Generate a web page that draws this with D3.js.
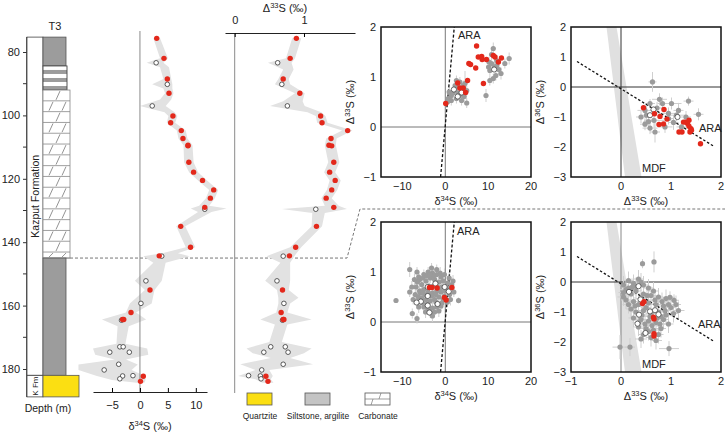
<!DOCTYPE html>
<html><head><meta charset="utf-8">
<script src="https://cdn.jsdelivr.net/npm/d3@7/dist/d3.min.js"></script>
<style>body{margin:0;background:#fff}svg text{font-family:"Liberation Sans",Arial,sans-serif;fill:#222}</style>
</head><body><svg id="c" width="725" height="432"></svg>
<script>
// ---------- DATA ----------
const depthTicks = [80,100,120,140,160,180];
const depthMinor = [90,110,130,150,170];
const lithTop  = [75.3, 84.4, 92.0, 145.0, 182.0];
const lithBase = [84.4, 92.0, 145.0, 182.0, 188.8];
const lithType = ["silt","inter","carb","silt","quartz"];

const sampleDepth = [75.7,82.0,83.4,88.5,90.2,93.0,97.0,100.2,102.3,104.8,107.3,109.4,109.6,114.8,117.9,120.5,123.5,126.1,129.0,129.6,135.0,141.6,144.3,144.4,152.2,155.1,159.3,162.2,164.4,164.4,164.6,173.0,173.0,174.7,174.7,178.5,180.3,182.1,182.2,183.1,182.3,183.9];
const sampleD34   = [3.0,4.3,2.9,4.9,4.9,5.2,2.2,5.9,5.5,7.4,7.7,8.6,8.6,8.75,9.6,11.2,13.2,12.6,11.6,11.6,7.3,9.05,3.45,3.9,1.07,1.8,0.18,-1.6,-3.1,-2.9,-3.3,-3.6,-3.0,-5.4,-1.9,-3.8,-6.4,-1.25,-3.1,-3.6,0.6,0.1];
const sampleD33   = [0.89,0.80,0.62,0.70,0.68,0.94,0.76,1.24,1.26,1.63,1.39,1.36,1.40,1.43,1.37,1.45,1.40,1.32,1.43,1.17,1.18,0.88,0.79,0.70,0.61,0.69,0.71,0.67,0.70,0.71,0.69,0.52,0.73,0.42,0.77,0.70,0.39,0.20,0.37,0.38,0.45,0.48];
const sampleKind  = ["r","r","o","r","o","r","o","r","r","r","r","r","r","r","r","r","r","r","r","o","r","r","r","o","o","r","o","r","r","r","o","o","o","o","o","o","o","o","o","o","r","r"];

const band34Depth = [75.7,82.0,83.4,84.8,88.5,90.2,91.5,93.0,95.0,97.0,99.0,100.2,102.3,104.8,107.3,109.4,114.8,117.9,120.5,123.5,126.1,128.5,129.4,130.5,135.0,141.6,143.5,144.4,146.5,152.2,155.1,159.3,162.2,164.4,166.5,172.0,173.5,175.5,177.0,178.6,180.3,182.2,183.5,184.3];
const band34Lo    = [2.4,3.6,1.2,3.6,4.2,2.2,4.2,4.5,3.6,0.0,4.4,5.1,4.8,6.6,6.9,7.8,7.9,8.8,10.4,12.4,11.8,10.6,9.1,10.4,6.5,8.2,4.0,0.6,2.4,-0.9,0.9,-1.8,-2.5,-6.8,-4.0,-4.2,-8.4,-8.0,-4.5,-11.0,-11.0,-7.7,-5.0,-0.6];
const band34Hi    = [3.6,5.0,4.2,5.2,5.6,5.8,5.8,6.0,5.6,4.6,6.2,6.7,6.3,8.2,8.5,9.4,9.6,10.4,12.0,14.0,13.4,12.4,15.5,12.8,8.1,9.9,6.8,8.9,4.6,3.9,2.6,2.1,-0.7,1.1,-2.0,-2.6,1.3,1.5,-2.5,-0.4,-1.5,0.9,1.0,0.8];

const band33Depth = [75.7,82.0,83.4,85.5,88.5,90.2,93.0,95.5,97.0,99.0,100.2,102.3,104.8,107.3,109.4,114.8,117.9,120.5,123.5,126.1,128.5,129.5,130.8,135.0,141.6,144.4,146.5,152.2,155.1,157.5,159.3,162.2,164.4,166.0,171.5,173.5,175.0,176.5,178.5,180.3,182.2,183.2,184.3];
const band33Lo    = [0.83,0.74,0.48,0.70,0.63,0.58,0.87,0.70,0.51,1.05,1.17,1.19,1.55,1.32,1.30,1.35,1.29,1.37,1.33,1.25,1.30,0.68,1.12,1.11,0.80,0.46,0.66,0.44,0.61,0.63,0.63,0.60,0.37,0.58,0.50,0.17,0.26,0.52,0.08,0.30,0.05,0.30,0.40];
const band33Hi    = [0.96,0.87,0.82,0.85,0.78,0.80,1.01,0.98,1.01,1.25,1.31,1.34,1.70,1.47,1.46,1.51,1.45,1.53,1.48,1.40,1.50,1.62,1.30,1.26,0.96,0.86,0.80,0.80,0.78,0.92,0.80,0.76,1.11,0.76,0.68,1.11,1.00,0.80,1.13,0.50,0.55,0.52,0.56];

// scatter: upper section (delta34S vs Delta33S)
const ulGray = [[11.2,1.57,0.12],[10.8,1.45,0.10],[10.2,1.30,0.10],[10.8,1.27,0.10],[12.0,1.23,0.10],[10.4,1.13,0.10],[13.9,1.27,0.10],[14.9,1.37,0.12],[13.0,1.07,0.12],[11.8,1.03,0.10],[10.4,0.93,0.10],[11.2,0.97,0.10],[9.5,0.63,0.13],[12.0,1.33,0.10],[10.1,1.20,0.10],[11.5,1.20,0.10],[12.5,1.15,0.10],
  [2.6,0.93,0.10],[3.4,0.90,0.10],[2.3,0.83,0.10],[4.2,0.83,0.10],[0.9,0.70,0.10],[1.4,0.63,0.10],[0.7,0.57,0.10],[1.4,0.53,0.10],[2.6,0.57,0.10],[3.4,0.63,0.10],[5.0,0.73,0.10],[4.4,0.61,0.10],[5.0,0.48,0.10],[3.8,0.53,0.10],[2.3,0.73,0.10],[0.5,0.50,0.10],[3.0,0.80,0.10],[4.6,0.87,0.25],[4.0,0.72,0.10],[1.8,0.68,0.10],[3.0,0.68,0.10]];
const ulRed = [[7.3,1.62],[7.7,1.40],[8.5,1.41],[8.6,1.35],[9.6,1.35],[11.2,1.43],[11.6,1.40],[13.1,1.38],[12.4,1.30],[5.5,1.27],[5.9,1.25],[7.1,1.18],[8.9,0.87],[5.2,0.93],[2.9,0.88],[3.4,0.78],[4.2,0.78],[4.75,0.69],[0.1,0.47]];
const ulWhite = [[2.0,0.75],[3.8,0.69],[2.9,0.61],[11.4,1.15]];

// scatter: upper section (Delta33S vs Delta36S)
const urGray = [[0.63,0.17,0.08,0.33],[1.35,-0.47,0.10,0.15],[0.77,-0.41,0.15,0.20],[0.58,-0.55,0.10,0.15],[1.01,-0.55,0.20,0.20],[1.55,-0.91,0.10,0.20],[1.15,-0.78,0.10,0.25],[0.95,-0.88,0.20,0.20],[0.51,-0.94,0.10,0.30],[0.48,-1.24,0.10,0.20],[0.58,-1.37,0.15,0.20],[0.68,-1.50,0.10,0.35],[0.88,-1.33,0.15,0.20],[1.05,-1.18,0.10,0.25],[1.21,-1.33,0.10,0.20],[0.48,-0.78,0.15,0.20],[0.83,-0.55,0.10,0.20],[0.66,-1.11,0.20,0.25],[1.11,-0.94,0.20,0.20],[1.30,-1.00,0.10,0.20],[0.72,-0.70,0.10,0.20],[0.95,-1.05,0.10,0.20],[0.40,-1.00,0.10,0.20],[0.55,-1.15,0.10,0.20]];
const urRed = [[0.45,-0.69],[0.67,-0.89],[0.86,-0.75],[0.78,-0.98],[0.92,-1.07],[0.76,-1.25],[0.85,-1.23],[1.16,-1.50],[1.22,-1.50],[1.25,-1.17],[1.29,-1.17],[1.36,-1.11],[1.33,-1.22],[1.36,-1.31],[1.40,-1.39],[1.38,-1.50],[1.41,-1.44],[1.59,-1.89]];
const urWhite = [[0.65,-0.75],[0.58,-0.94],[1.13,-1.00]];

// scatter: lower section (delta34S vs Delta33S)
const llGray = [[-11.5,0.43,0.05],[-8.3,1.05,0.15],[-6.6,1.00,0.10],[-8.3,0.60,0.10],[-7.7,0.17,0.10],[-6.6,0.07,0.10],[3.1,0.43,0.06],
  [-6.0,0.85,0.10],[-5.0,0.95,0.10],[-4.0,1.00,0.10],[-3.0,0.98,0.10],[-2.0,0.95,0.10],[-1.0,0.90,0.10],[-5.5,0.75,0.10],[-4.5,0.82,0.10],[-3.5,0.88,0.10],[-2.5,0.85,0.10],[-1.5,0.80,0.10],[-0.5,0.82,0.10],[0.5,0.78,0.10],[1.5,0.75,0.10],
  [-7.0,0.55,0.10],[-6.0,0.62,0.10],[-5.0,0.65,0.10],[-4.0,0.60,0.10],[-3.0,0.58,0.10],[-2.0,0.62,0.10],[-1.0,0.60,0.10],[0.0,0.62,0.10],[1.0,0.55,0.10],[2.0,0.60,0.10],
  [-6.5,0.40,0.10],[-5.5,0.48,0.10],[-4.5,0.45,0.10],[-3.5,0.42,0.10],[-2.5,0.45,0.10],[-1.5,0.50,0.10],[-0.5,0.45,0.10],[0.5,0.40,0.10],
  [-5.0,0.30,0.10],[-4.0,0.25,0.10],[-3.0,0.28,0.10],[-2.0,0.30,0.10],[-1.0,0.32,0.10],[-3.5,0.18,0.10],[-2.5,0.20,0.10],
  [-6.8,0.70,0.10],[-7.5,0.45,0.10],[-3.8,0.72,0.10],[-2.8,0.72,0.10],[-1.8,0.70,0.10],[-0.8,0.70,0.10],[0.8,0.68,0.10],[-4.8,0.55,0.10],[-3.2,0.52,0.10],[-0.2,0.52,0.10],[-2.2,0.40,0.10],[-4.2,0.36,0.10],[-5.8,0.58,0.10],[-6.2,0.90,0.10],[-2.0,1.05,0.10],[-3.2,1.08,0.10],
  [-6.5,0.80,0.12],[-5.2,0.88,0.12],[-4.3,0.92,0.12],[-3.6,0.95,0.12],[-2.7,0.92,0.12],[-1.2,0.98,0.12],[-0.2,0.95,0.12],[0.9,0.88,0.12],[-5.3,0.38,0.12],[-6.2,0.30,0.12],[-4.6,0.20,0.12],[-1.5,0.22,0.12],[-0.8,0.38,0.12],[1.2,0.45,0.12],[1.8,0.82,0.12],[-7.2,0.85,0.12],[-7.8,0.70,0.12],[-3.0,0.12,0.12],[-2.2,0.55,0.12],[-1.2,0.66,0.12],[-5.3,0.60,0.12],[-6.3,0.50,0.12]];
const llRed = [[-3.7,0.69],[-3.1,0.69],[-1.9,0.68],[1.55,0.69],[-0.2,0.49],[0.2,0.44]];
const llWhite = [[-4.1,0.70],[-2.3,0.77],[-0.15,0.70],[0.8,0.61],[-4.1,0.52],[-5.7,0.41],[-6.7,0.39],[-4.1,0.33],[-3.7,0.19],[-1.8,0.36]];

// scatter: lower section (Delta33S vs Delta36S)
const lrGray = [[0.43,0.61,0.05,0.15],[0.66,0.67,0.05,0.35],[-0.02,-2.17,0.15,0.40],[0.18,-2.17,0.10,0.30],[0.96,-2.22,0.20,0.25],[1.06,-0.61,0.10,0.20],[0.98,-0.51,0.10,0.20],
  [0.05,-0.10,0.10,0.30],[0.15,0.05,0.10,0.30],[0.25,-0.05,0.10,0.30],[0.35,0.10,0.10,0.30],[0.45,-0.10,0.10,0.30],[0.55,-0.20,0.10,0.30],
  [0.05,-0.35,0.10,0.30],[0.20,-0.40,0.10,0.30],[0.30,-0.30,0.10,0.30],[0.45,-0.40,0.10,0.30],[0.60,-0.45,0.10,0.30],[0.75,-0.50,0.10,0.30],[0.90,-0.55,0.10,0.30],
  [0.10,-0.60,0.10,0.30],[0.25,-0.65,0.10,0.30],[0.35,-0.75,0.10,0.30],[0.55,-0.70,0.10,0.30],[0.70,-0.75,0.10,0.30],[0.85,-0.80,0.10,0.30],[1.00,-0.85,0.10,0.30],
  [0.20,-0.90,0.10,0.30],[0.30,-1.00,0.10,0.30],[0.45,-0.95,0.10,0.30],[0.60,-1.05,0.10,0.30],[0.75,-1.00,0.10,0.30],[0.90,-1.10,0.10,0.30],[1.05,-1.05,0.10,0.30],
  [0.25,-1.20,0.10,0.30],[0.40,-1.25,0.10,0.30],[0.55,-1.30,0.10,0.30],[0.70,-1.35,0.10,0.30],[0.85,-1.25,0.10,0.30],[0.95,-1.40,0.10,0.30],
  [0.35,-1.50,0.10,0.30],[0.50,-1.55,0.10,0.30],[0.65,-1.60,0.10,0.30],[0.80,-1.55,0.10,0.30],[0.45,-1.75,0.10,0.30],[0.60,-1.85,0.10,0.30],[0.75,-1.75,0.10,0.30],
  [0.15,-0.20,0.10,0.30],[0.40,-0.55,0.10,0.30],[0.65,-0.30,0.10,0.30],[0.50,-0.85,0.10,0.30],[0.80,-1.15,0.10,0.30],[0.30,-0.15,0.10,0.30],[1.10,-0.75,0.10,0.30],[0.65,-1.20,0.10,0.30],
  [0.10,-0.25,0.12,0.3],[0.22,-0.18,0.12,0.3],[0.40,0.00,0.12,0.3],[0.52,-0.45,0.12,0.3],[0.68,-0.60,0.12,0.3],[0.82,-0.65,0.12,0.3],[0.95,-0.75,0.12,0.3],[0.15,-0.75,0.12,0.3],[0.28,-0.80,0.12,0.3],[0.42,-1.10,0.12,0.3],[0.58,-1.15,0.12,0.3],[0.72,-1.20,0.12,0.3],[0.88,-0.95,0.12,0.3],[0.35,-1.35,0.12,0.3],[0.48,-1.40,0.12,0.3],[0.62,-1.45,0.12,0.3],[0.78,-1.40,0.12,0.3],[0.55,-1.65,0.12,0.3],[0.70,-1.95,0.12,0.3],[0.40,-1.90,0.12,0.3],[1.15,-0.95,0.12,0.3],[0.05,-0.50,0.12,0.3]];
const lrRed = [[0.43,-0.72],[0.46,-0.66],[0.65,-1.17],[0.66,-1.23],[0.66,-1.72],[0.66,-1.80]];
const lrWhite = [[0.35,-0.14],[0.16,-0.33],[0.39,-0.58],[0.36,-1.09],[0.33,-1.39],[0.49,-1.70],[0.58,-0.98],[0.68,-0.94],[0.75,-1.08]];

// reference arrays
const araD34 = [-1.1, 2.1], araD33 = [-1.0, 2.0];
const araX33 = [-0.88, 1.86], araY36 = [0.85, -1.98];
const mdfX33 = [-0.29, -0.09, 0.41, 0.08], mdfY36 = [2, 2, -3, -3];

const d34Ticks = [-5,0,5,10];
const d33Ticks = [0,1];
const legendItems = ["Quartzite","Siltstone, argilite","Carbonate"];

// ---------- DRAW ----------
const svg = d3.select("#c");
const RED = "#e3281b", GRAYPT = "#9b9b9b", ERR = "#cfcfcf", BAND = "#e2e2e2";
const y = d3.scaleLinear().domain([80,180]).range([52,369]);

// depth axis
const gAx = svg.append("g").attr("transform","translate(27,0)");
gAx.call(d3.axisLeft(y).tickValues(depthTicks).tickSize(4).tickPadding(3).tickSizeOuter(0))
  .call(g=>g.select(".domain").remove());
gAx.selectAll(".tick line").attr("stroke","#333");
gAx.selectAll(".tick text").attr("font-size",11).style("fill","#222").attr("font-family","Liberation Sans, Arial");
gAx.selectAll(".minor").data(depthMinor).enter().append("line").attr("x1",-4).attr("x2",0).attr("y1",d=>y(d)).attr("y2",d=>y(d)).attr("stroke","#333");
gAx.append("line").attr("x1",0).attr("x2",0).attr("y1",y(lithTop[0])).attr("y2",y(lithBase[4])).attr("stroke","#333").attr("stroke-width",1.6);

// formation column
svg.append("rect").attr("x",27).attr("y",y(lithTop[0])).attr("width",16).attr("height",y(lithBase[4])-y(lithTop[0])).attr("fill","#fff").attr("stroke","#444").attr("stroke-width",0.8);
svg.append("line").attr("x1",27).attr("x2",43).attr("y1",y(182)).attr("y2",y(182)).attr("stroke","#444");
svg.append("text").attr("transform",`translate(38.5,${y(125.5)}) rotate(-90)`).attr("text-anchor","middle").attr("font-size",10.5).text("Kazput Formation");
svg.append("text").attr("transform",`translate(37.5,${y(185.4)}) rotate(-90)`).attr("text-anchor","middle").attr("font-size",8).text("K Fm");

// lithology
const widthFor = {silt:23, inter:24, carb:27, quartz:36};
lithType.forEach((t,i)=>{
  const y0=y(lithTop[i]), y1=y(lithBase[i]), w=widthFor[t];
  if(t==="silt"){
    svg.append("rect").attr("x",43).attr("y",y0).attr("width",w).attr("height",y1-y0).attr("fill","#9c9c9c").attr("stroke","#555").attr("stroke-width",0.8);
  } else if(t==="quartz"){
    svg.append("rect").attr("x",43).attr("y",y0).attr("width",w).attr("height",y1-y0).attr("fill","#fbdf12").attr("stroke","#555").attr("stroke-width",0.8);
  } else if(t==="inter"){
    const n=6, h=(y1-y0)/n;
    for(let k=0;k<n;k++) svg.append("rect").attr("x",43).attr("y",y0+k*h).attr("width",w).attr("height",h).attr("fill",k%2?"#9c9c9c":"#fff");
    svg.append("rect").attr("x",43).attr("y",y0).attr("width",w).attr("height",y1-y0).attr("fill","none").attr("stroke","#444").attr("stroke-width",0.9);
  } else {
    svg.append("rect").attr("x",43).attr("y",y0).attr("width",w).attr("height",y1-y0).attr("fill","#fff").attr("stroke","#888").attr("stroke-width",0.8);
    const rh=10.8; let r=0;
    for(let yy=y0; yy<y1-0.5; yy+=rh, r++){
      const yb=Math.min(yy+rh,y1);
      svg.append("line").attr("x1",43).attr("x2",43+w).attr("y1",yb).attr("y2",yb).attr("stroke","#888").attr("stroke-width",0.8);
      const xs = r%2? [49,62] : [56];
      xs.forEach(xx=>svg.append("line").attr("x1",xx).attr("y1",yb-1).attr("x2",xx+4).attr("y2",yy+1).attr("stroke","#777").attr("stroke-width",0.8));
    }
  }
});
svg.append("text").attr("x",55).attr("y",30).attr("text-anchor","middle").attr("font-size",11).text("T3");
svg.append("text").attr("x",48).attr("y",412).attr("text-anchor","middle").attr("font-size",10.5).text("Depth (m)");

// dashed connector
svg.append("path").attr("d",`M70,${y(145)}L347,${y(145)}L360,209L725,209`).attr("fill","none").attr("stroke","#777").attr("stroke-dasharray","3,2").attr("stroke-width",1);

// ---- d34S profile ----
const x34 = d3.scaleLinear().domain([-8.4,12]).range([93,207]);
svg.append("path").datum(band34Depth.map((d,i)=>[d,band34Lo[i],band34Hi[i]]))
  .attr("d",d3.area().y(d=>y(d[0])).x0(d=>x34(d[1])).x1(d=>x34(d[2]))).attr("fill",BAND);
svg.append("line").attr("x1",x34(0)).attr("x2",x34(0)).attr("y1",31).attr("y2",392).attr("stroke","#8a8a8a").attr("stroke-width",1);
const ax34 = svg.append("g").attr("transform","translate(0,392)").call(d3.axisBottom(x34).tickValues(d34Ticks).tickFormat(d=>d<0?"\u2212"+(-d):d).tickSizeInner(-4).tickSizeOuter(0).tickPadding(9));
ax34.select(".domain").attr("stroke","#222").attr("stroke-width",1.2);
ax34.selectAll("text").attr("font-size",11).style("fill","#222");
const t34 = svg.append("text").attr("x",150).attr("y",430).attr("text-anchor","middle").attr("font-size",11);
t34.append("tspan").text("\u03b4");
t34.append("tspan").attr("dy",-4).attr("font-size",7.5).text("34");
t34.append("tspan").attr("dy",4).text("S (\u2030)");

const samples = sampleDepth.map((d,i)=>({d, a:sampleD34[i], b:sampleD33[i], k:sampleKind[i]}));
function drawProfile(xs, key){
  svg.append("g").selectAll("circle").data(samples.filter(s=>s.k==="o")).enter().append("circle")
    .attr("cx",s=>xs(s[key])).attr("cy",s=>y(s.d)).attr("r",2.3).attr("fill","#fff").attr("stroke","#333").attr("stroke-width",0.8);
  svg.append("g").selectAll("circle").data(samples.filter(s=>s.k==="r")).enter().append("circle")
    .attr("cx",s=>xs(s[key])).attr("cy",s=>y(s.d)).attr("r",2.7).attr("fill",RED);
}
drawProfile(x34,"a");

// ---- D33S profile ----
const x33 = d3.scaleLinear().domain([-0.14,1.736]).range([225,355]);
svg.append("path").datum(band33Depth.map((d,i)=>[d,band33Lo[i],band33Hi[i]]))
  .attr("d",d3.area().y(d=>y(d[0])).x0(d=>x33(d[1])).x1(d=>x33(d[2]))).attr("fill",BAND);
svg.append("line").attr("x1",x33(0)).attr("x2",x33(0)).attr("y1",33).attr("y2",393).attr("stroke","#8a8a8a").attr("stroke-width",1);
const ax33 = svg.append("g").attr("transform","translate(0,33)").call(d3.axisTop(x33).tickValues(d33Ticks).tickFormat(d3.format("d")).tickSizeInner(-4).tickSizeOuter(0).tickPadding(9));
ax33.select(".domain").attr("stroke","#222").attr("stroke-width",1.2);
ax33.selectAll("text").attr("font-size",11).style("fill","#222");
const t33 = svg.append("text").attr("x",285).attr("y",12).attr("text-anchor","middle").attr("font-size",11);
t33.append("tspan").text("\u0394");
t33.append("tspan").attr("dy",-4).attr("font-size",7.5).text("33");
t33.append("tspan").attr("dy",4).text("S (\u2030)");
drawProfile(x33,"b");

// ---- legend ----
const legX=[247,305,365], legTxt=[260,318,378];
legendItems.forEach((name,i)=>{
  const fill = i===0?"#fbdf12":(i===1?"#c4c4c4":"#fff");
  svg.append("rect").attr("x",legX[i]).attr("y",393).attr("width",25).attr("height",12).attr("fill",fill).attr("stroke","#555").attr("stroke-width",0.8);
  if(i===2){
    svg.append("line").attr("x1",legX[i]).attr("x2",legX[i]+25).attr("y1",399).attr("y2",399).attr("stroke","#777").attr("stroke-width",0.7);
    [[legX[i]+6,405,legX[i]+8,399],[legX[i]+14,399,legX[i]+16,393]].forEach(c=>svg.append("line").attr("x1",c[0]).attr("y1",c[1]).attr("x2",c[2]).attr("y2",c[3]).attr("stroke","#777").attr("stroke-width",0.7));
  }
  svg.append("text").attr("x",legTxt[i]).attr("y",419).attr("text-anchor","middle").attr("font-size",8.5).text(name);
});

// ---- scatter panels ----
function title(g, x, yy, pre, sup, rot){
  const t = g.append("text").attr("text-anchor","middle").attr("font-size",11);
  if(rot) t.attr("transform",`translate(${x},${yy}) rotate(-90)`); else t.attr("x",x).attr("y",yy);
  t.append("tspan").text(pre);
  t.append("tspan").attr("dy",-4).attr("font-size",7.5).text(sup);
  t.append("tspan").attr("dy",4).text("S (\u2030)");
}
function panel(opt){
  const g = svg.append("g");
  const xs = d3.scaleLinear().domain(opt.xd).range([opt.x0, opt.x0+150]);
  const ys = d3.scaleLinear().domain(opt.yd).range([opt.y0+150, opt.y0]);
  const clipId = "clip"+opt.id;
  svg.append("clipPath").attr("id",clipId).append("rect").attr("x",opt.x0).attr("y",opt.y0).attr("width",150).attr("height",150);
  const inner = g.append("g").attr("clip-path",`url(#${clipId})`);
  if(opt.mdf){
    inner.append("path").attr("d",d3.line()(mdfX33.map((v,i)=>[xs(v),ys(mdfY36[i])]))+"Z").attr("fill","#e0e0e0");
  }
  inner.append("line").attr("x1",xs(0)).attr("x2",xs(0)).attr("y1",opt.y0).attr("y2",opt.y0+150).attr("stroke",opt.vcol).attr("stroke-width",1);
  inner.append("line").attr("x1",opt.x0).attr("x2",opt.x0+150).attr("y1",ys(0)).attr("y2",ys(0)).attr("stroke",opt.hcol).attr("stroke-width",1);
  // error bars
  opt.gray.forEach(p=>{
    const ey = opt.mdf? p[3] : p[2];
    inner.append("line").attr("x1",xs(p[0])).attr("x2",xs(p[0])).attr("y1",ys(p[1]-ey)).attr("y2",ys(p[1]+ey)).attr("stroke",ERR).attr("stroke-width",1);
    if(opt.mdf) inner.append("line").attr("x1",xs(p[0]-p[2])).attr("x2",xs(p[0]+p[2])).attr("y1",ys(p[1])).attr("y2",ys(p[1])).attr("stroke",ERR).attr("stroke-width",1);
    else inner.append("line").attr("x1",xs(p[0]-0.5)).attr("x2",xs(p[0]+0.5)).attr("y1",ys(p[1])).attr("y2",ys(p[1])).attr("stroke",ERR).attr("stroke-width",1);
  });
  // ARA
  inner.append("line").attr("x1",xs(opt.ara[0][0])).attr("y1",ys(opt.ara[1][0])).attr("x2",xs(opt.ara[0][1])).attr("y2",ys(opt.ara[1][1]))
    .attr("stroke","#111").attr("stroke-width",1.3).attr("stroke-dasharray",opt.mdf?"2.5,2":"3,2");
  inner.selectAll(".gp").data(opt.gray).enter().append("circle").attr("cx",p=>xs(p[0])).attr("cy",p=>ys(p[1])).attr("r",2.6).attr("fill",GRAYPT);
  inner.selectAll(".wp").data(opt.white).enter().append("circle").attr("cx",p=>xs(p[0])).attr("cy",p=>ys(p[1])).attr("r",2.6).attr("fill","#fff").attr("stroke","#444").attr("stroke-width",0.8);
  inner.selectAll(".rp").data(opt.red).enter().append("circle").attr("cx",p=>xs(p[0])).attr("cy",p=>ys(p[1])).attr("r",2.7).attr("fill",RED);
  // labels
  opt.araLab && g.append("text").attr("x",opt.araLab[0]).attr("y",opt.araLab[1]).attr("font-size",11).text("ARA");
  opt.mdfLab && g.append("text").attr("x",opt.mdfLab[0]).attr("y",opt.mdfLab[1]).attr("font-size",11).text("MDF");
  g.append("rect").attr("x",opt.x0).attr("y",opt.y0).attr("width",150).attr("height",150).attr("fill","none").attr("stroke","#111").attr("stroke-width",1.5);
  const fmt = d=>d<0?"\u2212"+(-d):String(d);
  opt.xt.forEach(v=>g.append("text").attr("x",xs(v)).attr("y",opt.y0+163).attr("text-anchor","middle").attr("font-size",11).text(fmt(v)));
  opt.yt.forEach(v=>g.append("text").attr("x",opt.x0-5).attr("y",ys(v)+4).attr("text-anchor","end").attr("font-size",11).text(fmt(v)));
  title(g, opt.x0+75, opt.y0+178, opt.xt1[0], opt.xt1[1], false);
  title(g, opt.x0-27, opt.y0+75, opt.yt1[0], opt.yt1[1], true);
}
panel({id:1,x0:381,y0:27,xd:[-15,20],yd:[-1,2],gray:ulGray,red:ulRed,white:ulWhite,ara:[araD34,araD33],vcol:"#777",hcol:"#777",
  xt:[-10,0,10,20],yt:[2,1,0,-1],xt1:["\u03b4","34"],yt1:["\u0394","33"],araLab:[458,39]});
panel({id:2,x0:571,y0:27,xd:[-1,2],yd:[-3,2],gray:urGray,red:urRed,white:urWhite,ara:[araX33,araY36],vcol:"#333",hcol:"#333",mdf:true,
  xt:[0,1,2],yt:[2,1,0,-1,-2,-3],xt1:["\u0394","33"],yt1:["\u0394","36"],araLab:[699,132],mdfLab:[642,172]});
panel({id:3,x0:381,y0:222,xd:[-15,20],yd:[-1,2],gray:llGray,red:llRed,white:llWhite,ara:[araD34,araD33],vcol:"#777",hcol:"#777",
  xt:[-10,0,10,20],yt:[2,1,0,-1],xt1:["\u03b4","34"],yt1:["\u0394","33"],araLab:[457,235]});
panel({id:4,x0:571,y0:222,xd:[-1,2],yd:[-3,2],gray:lrGray,red:lrRed,white:lrWhite,ara:[araX33,araY36],vcol:"#888",hcol:"#333",mdf:true,
  xt:[-1,0,1,2],yt:[2,1,0,-1,-2,-3],xt1:["\u0394","33"],yt1:["\u0394","36"],araLab:[698,328],mdfLab:[642,368]});
</script></body></html>
